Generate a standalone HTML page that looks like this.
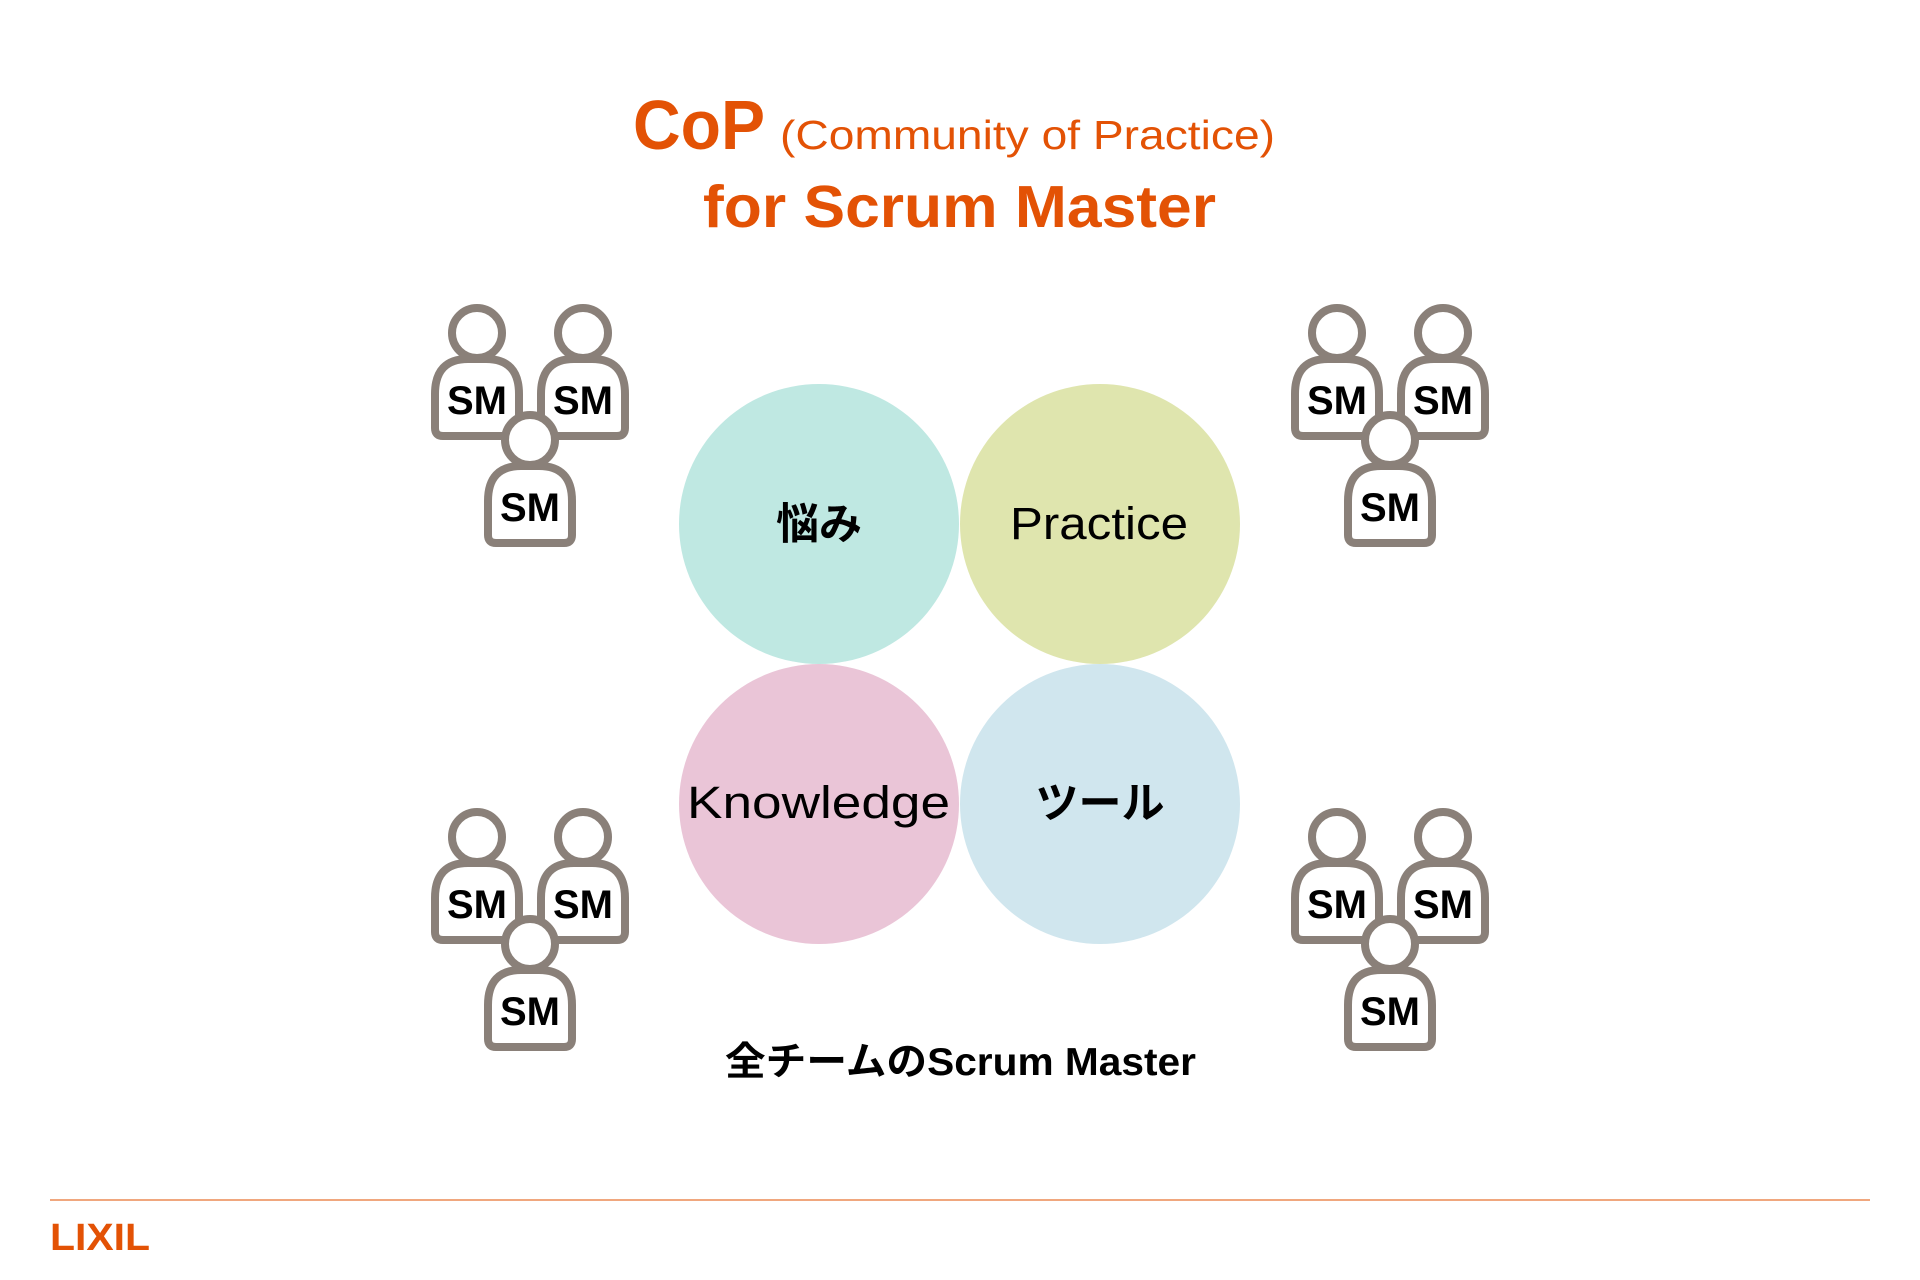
<!DOCTYPE html>
<html><head><meta charset="utf-8"><style>html,body{margin:0;padding:0;background:#fff}svg{display:block}</style></head>
<body>
<svg width="1920" height="1280" viewBox="0 0 1920 1280" xmlns="http://www.w3.org/2000/svg" font-family="Liberation Sans, Noto Sans CJK JP, sans-serif">
<defs>
<g id="p">
  <path d="M-42,95 L-42,61 Q-42,26 -9,26 L9,26 Q42,26 42,61 L42,95 Q42,103 34,103 L-34,103 Q-42,103 -42,95 Z" fill="#fff" stroke="#8a8079" stroke-width="8" stroke-linejoin="round"/>
  <circle cx="0" cy="0" r="25" fill="#fff" stroke="#8a8079" stroke-width="8"/>
  <text x="0" y="81" text-anchor="middle" font-size="40" font-weight="bold" fill="#000">SM</text>
</g>
<g id="grp">
  <use href="#p" x="477" y="333"/>
  <use href="#p" x="583" y="333"/>
  <use href="#p" x="530" y="440"/>
</g>
</defs>
<text x="633" y="149" font-size="70" font-weight="bold" fill="#e35205" textLength="132" lengthAdjust="spacingAndGlyphs">CoP</text>
<text x="780" y="149" font-size="41" fill="#e35205" textLength="495" lengthAdjust="spacingAndGlyphs">(Community of Practice)</text>
<text x="703" y="227" font-size="59" font-weight="bold" fill="#e35205" textLength="513" lengthAdjust="spacingAndGlyphs">for Scrum Master</text>

<circle cx="819" cy="524" r="140" fill="#bfe8e2"/>
<circle cx="1100" cy="524" r="140" fill="#dfe5ae"/>
<circle cx="819" cy="804" r="140" fill="#eac5d7"/>
<circle cx="1100" cy="804" r="140" fill="#d0e6ee"/>
<text x="819" y="539" text-anchor="middle" font-size="43" font-weight="bold" fill="#000">悩み</text>
<text x="1010" y="539" font-size="45" fill="#000" textLength="178" lengthAdjust="spacingAndGlyphs">Practice</text>
<text x="687" y="818" font-size="45" fill="#000" textLength="263" lengthAdjust="spacingAndGlyphs">Knowledge</text>
<text x="1100" y="818" text-anchor="middle" font-size="43" font-weight="bold" fill="#000">ツール</text>

<use href="#grp"/>
<use href="#grp" x="860"/>
<use href="#grp" y="504"/>
<use href="#grp" x="860" y="504"/>

<text x="725" y="1075" font-size="39" font-weight="bold" fill="#000" textLength="471" lengthAdjust="spacingAndGlyphs">全チームのScrum Master</text>

<line x1="50" y1="1200" x2="1870" y2="1200" stroke="#f0a77e" stroke-width="2"/>
<text x="50" y="1250" font-size="38" font-weight="bold" fill="#e35205" textLength="100" lengthAdjust="spacingAndGlyphs">LIXIL</text>
</svg>
</body></html>
